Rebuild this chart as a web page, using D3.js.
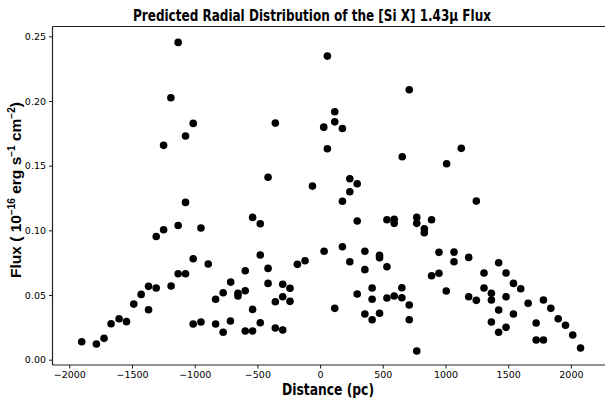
<!DOCTYPE html>
<html>
<head>
<meta charset="utf-8">
<script src="https://cdn.jsdelivr.net/npm/d3@7"></script>
<style>
  body { margin: 0; background: #fff; }
  svg { display: block; }
</style>
</head>
<body>
<svg id="chart" width="605" height="403"></svg>
<script>
const distance = [
  -1901, -1784, -1723, -1667, -1603, -1544, -1486, -1427, -1368, -1368,
  -1307, -1307, -1248, -1248, -1190, -1188, -1132, -1132, -1132, -1073,
  -1073, -1073, -1012, -1012, -1012, -950, -950, -892, -833, -833,
  -773, -773, -713, -715, -655, -655, -597, -597, -597, -538,
  -538, -538, -477, -477, -477, -415, -415, -415, -357, -357,
  -357, -298, -298, -298, -240, -240, -181, -120, -61, 29,
  32, 58, 58, 117, 117, 117, 178, 178, 178, 237,
  237, 237, 296, 296, 296, 357, 357, 357, 415, 415,
  415, 474, 474, 474, 533, 533, 533, 591, 591, 591,
  655, 652, 652, 711, 711, 711, 771, 771, 771, 831,
  831, 889, 889, 948, 948, 1009, 1006, 1068, 1068, 1126,
  1185, 1185, 1246, 1246, 1307, 1307, 1366, 1366, 1366, 1424,
  1424, 1424, 1483, 1483, 1483, 1542, 1542, 1600, 1659, 1723,
  1723, 1781, 1781, 1840, 1899, 1957, 2015, 2077
];
const flux = [
  0.0139, 0.0121, 0.0165, 0.0278, 0.0317, 0.0294, 0.0430, 0.0505, 0.0567, 0.0386,
  0.0554, 0.0953, 0.1005, 0.1657, 0.2025, 0.0570, 0.2453, 0.1038, 0.0665, 0.1729,
  0.1216, 0.0665, 0.1827, 0.0781, 0.0276, 0.1018, 0.0291, 0.0740, 0.0467, 0.0276,
  0.0518, 0.0212, 0.0600, 0.0299, 0.0513, 0.0492, 0.0688, 0.0533, 0.0222, 0.1100,
  0.0389, 0.0222, 0.1051, 0.0809, 0.0286, 0.1410, 0.0706, 0.0590, 0.1829, 0.0448,
  0.0245, 0.0583, 0.0487, 0.0230, 0.0552, 0.0451, 0.0737, 0.0765, 0.1342, 0.1798,
  0.0838, 0.2347, 0.1631, 0.1917, 0.1839, 0.0397, 0.1788, 0.1225, 0.0873, 0.1399,
  0.1298, 0.0757, 0.1360, 0.1072, 0.0508, 0.0838, 0.0696, 0.0353, 0.0554, 0.0467,
  0.0309, 0.0807, 0.0788, 0.0359, 0.1082, 0.0719, 0.0477, 0.1085, 0.1054, 0.0492,
  0.1569, 0.0556, 0.0479, 0.2087, 0.0423, 0.0309, 0.1100, 0.1054, 0.0067, 0.1012,
  0.0981, 0.1082, 0.0649, 0.0830, 0.0668, 0.1515, 0.0531, 0.0832, 0.0757, 0.1634,
  0.0791, 0.0487, 0.1226, 0.0459, 0.0670, 0.0554, 0.0513, 0.0461, 0.0291, 0.0750,
  0.0384, 0.0212, 0.0670, 0.0487, 0.0250, 0.0590, 0.0353, 0.0549, 0.0436, 0.0284,
  0.0152, 0.0152, 0.0461, 0.0397, 0.0317, 0.0266, 0.0191, 0.0090
];
const xTicks = [-2000, -1500, -1000, -500, 0, 500, 1000, 1500, 2000];
const yTicks = [0.00, 0.05, 0.10, 0.15, 0.20, 0.25];
const titleText = "Predicted Radial Distribution of the [Si X] 1.43μ Flux";
const xLabelText = "Distance (pc)";

(function () {
const svg = d3.select("#chart");
const mLeft = 52.5, mRight = 606, mTop = 26.5, mBottom = 365;

const x = d3.scaleLinear().domain([-2134, 2280]).range([mLeft, mRight]);
const y = d3.scaleLinear().domain([-0.0041, 0.2576]).range([mBottom, mTop]);

const points = distance.map((d, i) => ({ d, f: flux[i] }));

// points
svg.append("g")
  .selectAll("circle")
  .data(points)
  .join("circle")
  .attr("cx", p => x(p.d))
  .attr("cy", p => y(p.f))
  .attr("r", 3.8)
  .attr("fill", "#000");

// axes
const xAxis = d3.axisBottom(x).tickValues(xTicks).tickSize(3.5).tickPadding(3)
  .tickFormat(d => d < 0 ? "\u2212" + Math.abs(d) : String(d));
const yAxis = d3.axisLeft(y).tickValues(yTicks).tickSize(3.5).tickPadding(3)
  .tickFormat(d3.format(".2f"));

const gx = svg.append("g").attr("transform", `translate(0,${mBottom})`).call(xAxis);
const gy = svg.append("g").attr("transform", `translate(${mLeft},0)`).call(yAxis);
[gx, gy].forEach(g => {
  g.select(".domain").remove();
  g.selectAll(".tick line").attr("stroke", "#000").attr("stroke-width", 0.9);
  g.selectAll(".tick text")
    .attr("font-family", "DejaVu Sans")
    .attr("font-size", 9.5)
    .attr("fill", "#000");
});

// spines
svg.append("line").attr("x1", mLeft).attr("x2", mLeft).attr("y1", mTop).attr("y2", mBottom)
  .attr("stroke", "#222").attr("stroke-width", 1.2);
svg.append("line").attr("x1", mLeft).attr("x2", 605).attr("y1", mBottom).attr("y2", mBottom)
  .attr("stroke", "#222").attr("stroke-width", 1.2);
svg.append("line").attr("x1", mLeft).attr("x2", 605).attr("y1", mTop).attr("y2", mTop)
  .attr("stroke", "#222").attr("stroke-width", 1.2);

// title
svg.append("text")
  .attr("x", 312).attr("y", 21)
  .attr("text-anchor", "middle")
  .attr("font-family", "'Liberation Sans Narrow', 'DejaVu Sans Condensed', 'Roboto', sans-serif")
  .attr("font-weight", "bold")
  .attr("font-size", 16.5)
  .attr("textLength", 358)
  .attr("lengthAdjust", "spacingAndGlyphs")
  .attr("fill", "#000")
  .text(titleText);

// x label
svg.append("text")
  .attr("x", 328).attr("y", 395)
  .attr("text-anchor", "middle")
  .attr("font-family", "'Liberation Sans Narrow', 'DejaVu Sans Condensed', 'Roboto', sans-serif")
  .attr("font-weight", "bold")
  .attr("font-size", 16)
  .attr("textLength", 92)
  .attr("lengthAdjust", "spacingAndGlyphs")
  .attr("fill", "#000")
  .text(xLabelText);

// y label
const yl = svg.append("text")
  .attr("transform", "translate(21,190) rotate(-90)")
  .attr("text-anchor", "middle")
  .attr("font-family", "'Liberation Sans', Arial, sans-serif")
  .attr("font-weight", "bold")
  .attr("font-size", 15.5)
  .attr("fill", "#000");
yl.append("tspan").text("Flux ( 10");
yl.append("tspan").attr("font-size", 10).attr("dy", -6).text("\u221216");
yl.append("tspan").attr("dy", 6).text(" erg s");
yl.append("tspan").attr("font-size", 10).attr("dy", -6).text("\u22121");
yl.append("tspan").attr("dy", 6).text(" cm");
yl.append("tspan").attr("font-size", 10).attr("dy", -6).text("\u22122");
yl.append("tspan").attr("dy", 6).text(")");
})();
</script>
</body>
</html>
